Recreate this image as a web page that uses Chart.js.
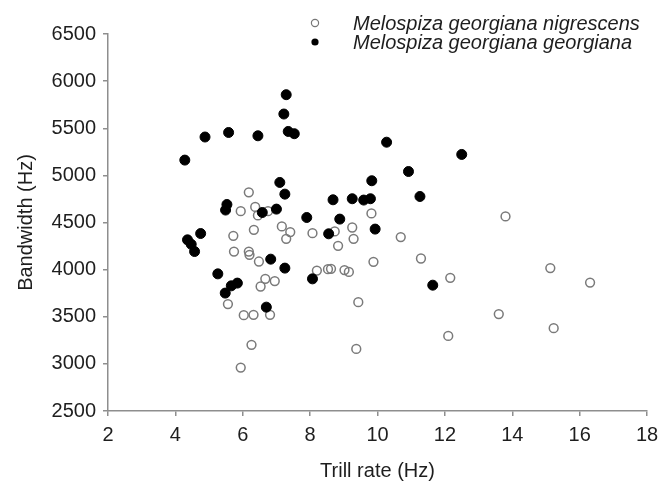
<!DOCTYPE html>
<html>
<head>
<meta charset="utf-8">
<script src="https://cdn.jsdelivr.net/npm/chart.js@4/dist/chart.umd.min.js"></script>
<style>
    html, body { margin: 0; padding: 0; background: #fff; }
    #wrap { width: 670px; height: 485px; position: relative; }
</style>
</head>
<body>
<div id="wrap"><canvas id="chart" width="670" height="485"></canvas></div>
<script>
// Series data
const nigrescensRate = [
    6.18, 5.94, 6.37, 6.45, 6.75, 7.16, 7.41, 7.29, 8.07, 5.72,
    6.33, 5.74, 6.18, 6.20, 6.48, 6.67, 6.95, 6.53, 5.56, 6.03,
    6.32, 6.81, 6.26, 5.94, 9.82, 8.73, 9.25, 9.29, 8.83, 10.69,
    9.88, 11.29, 8.20, 8.53, 8.62, 9.02, 9.15, 12.16, 9.43, 9.37,
    12.10, 13.80, 15.13, 16.31, 13.60, 15.23,
];
const nigrescensBandwidth = [
    4820, 4620, 4665, 4575, 4620, 4458, 4398, 4327, 4387, 4359,
    4422, 4192, 4192, 4157, 4086, 3902, 3878, 3821, 3634, 3517,
    3520, 3520, 3202, 2961, 4596, 4405, 4447, 4327, 4253, 4345,
    4083, 4118, 3990, 4005, 4008, 3995, 3976, 3913, 3655, 3159,
    3297, 4564, 4016, 3863, 3528, 3379,
];
const georgianaRate = [
    7.29, 7.22, 4.88, 5.58, 6.45, 7.35, 7.53, 4.28, 7.10, 7.25,
    5.53, 5.49, 6.58, 7.00, 7.90, 4.75, 4.36, 4.47, 4.57, 8.55,
    6.83, 7.25, 5.26, 5.66, 5.84, 5.48, 6.70, 8.07, 10.27, 12.50,
    10.92, 9.83, 11.26, 8.68, 9.25, 9.59, 9.79, 8.88, 9.93, 11.64,
];
const georgianaBandwidth = [
    5856, 5651, 5407, 5455, 5420, 5466, 5442, 5162, 4925, 4801,
    4691, 4632, 4606, 4642, 4553, 4383, 4316, 4269, 4192, 4380,
    4111, 4016, 3955, 3828, 3857, 3751, 3602, 3902, 5352, 5222,
    5041, 4943, 4776, 4741, 4752, 4738, 4752, 4536, 4430, 3835,
];

const seriesLabels = ['Melospiza georgiana nigrescens', 'Melospiza georgiana georgiana'];

// Axis ranges
const xRange = [2, 18];
const xStep = 2;
const yRange = [2500, 6500];
const yStep = 500;

const toPoints = (xs, ys) => xs.map((x, i) => ({ x, y: ys[i] }));

const axisColor = '#8e8e8e';
const textColor = '#1e1e1e';
const fontFamily = '"Liberation Sans", Arial, sans-serif';

// Legend drawn by hand, up in the top right above the plot
const legendPlugin = {
    id: 'handLegend',
    afterDraw(chart) {
        const { ctx } = chart;
        const rows = [
            { y: 23, ds: chart.data.datasets[0] },
            { y: 42, ds: chart.data.datasets[1] },
        ];
        ctx.save();
        rows.forEach(({ y, ds }) => {
            ctx.beginPath();
            ctx.arc(315, y, 3.6, 0, Math.PI * 2);
            if (ds.legendFilled) {
                ctx.fillStyle = '#000';
                ctx.fill();
            } else {
                ctx.lineWidth = 1.2;
                ctx.strokeStyle = '#777';
                ctx.stroke();
            }
            ctx.fillStyle = textColor;
            ctx.font = 'italic 20px ' + fontFamily;
            ctx.textBaseline = 'middle';
            ctx.textAlign = 'left';
            ctx.fillText(ds.label, 353, y + 1);
        });
        ctx.restore();
    },
};

new Chart(document.getElementById('chart'), {
    type: 'scatter',
    data: {
        datasets: [
            {
                label: seriesLabels[0],
                data: toPoints(nigrescensRate, nigrescensBandwidth),
                pointRadius: 4.4,
                pointBorderWidth: 1.5,
                pointBorderColor: '#7a7a7a',
                pointBackgroundColor: 'rgba(255, 255, 255, 0)',
                order: 2,
                legendFilled: false,
            },
            {
                label: seriesLabels[1],
                data: toPoints(georgianaRate, georgianaBandwidth),
                pointRadius: 5,
                pointBorderWidth: 1,
                pointBorderColor: '#000',
                pointBackgroundColor: '#000',
                order: 1,
                legendFilled: true,
            },
        ],
    },
    options: {
        responsive: false,
        animation: false,
        layout: {
            padding: { top: 34, right: 23, left: 0, bottom: 0 },
        },
        plugins: {
            legend: { display: false },
            tooltip: { enabled: false },
        },
        scales: {
            x: {
                type: 'linear',
                min: xRange[0],
                max: xRange[1],
                afterFit: (s) => { s.height = 74; },
                border: { color: axisColor, width: 1.5 },
                grid: {
                    drawOnChartArea: false,
                    drawTicks: true,
                    tickLength: 5,
                    color: axisColor,
                    lineWidth: 1.5,
                },
                ticks: {
                    stepSize: xStep,
                    color: textColor,
                    padding: 7,
                    maxRotation: 0,
                    font: { family: fontFamily, size: 20 },
                },
                title: {
                    display: true,
                    text: 'Trill rate (Hz)',
                    color: textColor,
                    font: { family: fontFamily, size: 20 },
                    padding: { top: 0, bottom: 2 },
                },
            },
            y: {
                type: 'linear',
                min: yRange[0],
                max: yRange[1],
                afterFit: (s) => { s.width = 108; },
                border: { color: axisColor, width: 1.5 },
                grid: {
                    drawOnChartArea: false,
                    drawTicks: true,
                    tickLength: 5,
                    color: axisColor,
                    lineWidth: 1.5,
                },
                ticks: {
                    stepSize: yStep,
                    color: textColor,
                    padding: 7,
                    font: { family: fontFamily, size: 20 },
                    callback: (v) => String(v),
                },
                title: {
                    display: true,
                    text: 'Bandwidth (Hz)',
                    color: textColor,
                    font: { family: fontFamily, size: 20 },
                    padding: { top: 14, bottom: 0 },
                },
            },
        },
    },
    plugins: [legendPlugin],
});
</script>
</body>
</html>
